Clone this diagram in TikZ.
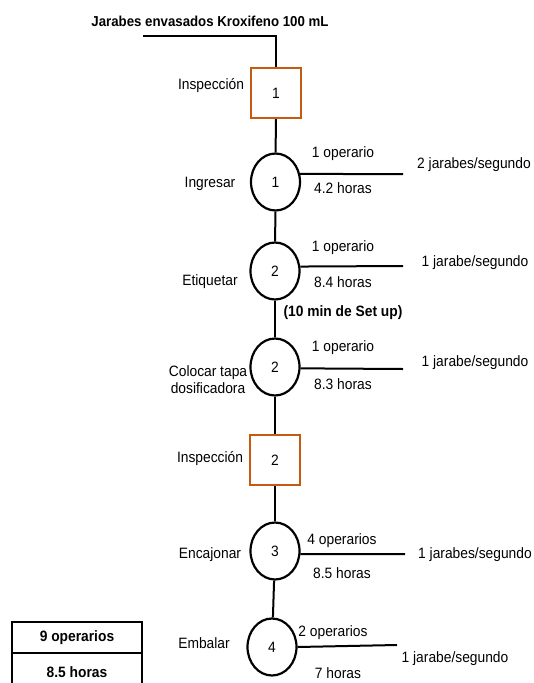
\documentclass[tikz,border=0pt]{standalone}
\usepackage{fontspec}
\setmainfont{Liberation Sans}[FakeStretch=0.92]
\usetikzlibrary{shapes.geometric}
\definecolor{inspcol}{HTML}{C55A11}
\tikzset{
  opnode/.style={ellipse, draw=black, line width=2.2pt, minimum width=49pt, minimum height=57pt, inner sep=0pt, font=\fontsize{15}{17}\selectfont},
  inspnode/.style={rectangle, draw=inspcol, line width=2.2pt, minimum width=50pt, minimum height=50pt, inner sep=0pt, font=\fontsize{15}{17}\selectfont},
  lbl/.style={inner sep=0pt, font=\fontsize{15}{17}\selectfont, align=center},
  blbl/.style={inner sep=0pt, font=\fontsize{15}{17}\selectfont\bfseries, align=center},
  flow/.style={draw=black, line width=2pt},
}
\begin{document}
\begin{tikzpicture}[x=1pt, y=-1pt]
\useasboundingbox[fill=white] (0,0) rectangle (534,683);

% title and incoming line
\node[blbl, font=\fontsize{14.4}{17}\selectfont\bfseries] (title) at (210,21) {Jarabes envasados Kroxifeno 100 mL};
\coordinate (start) at (143,36);

% main sequence of steps
\node[inspnode] (i1) at (276,93) {1};
\node[opnode] (c1) at (275.5,182) {1};
\node[opnode] (c2) at (275,271) {2};
\node[opnode] (c3) at (275,367) {2};
\node[inspnode] (i2) at (275,460) {2};
\node[opnode] (c4) at (275,551) {3};
\node[opnode] (c5) at (272,647) {4};

\draw[flow] (start) -- (276,36) -- (i1.north);
\draw[flow] (i1) -- (c1);
\draw[flow] (c1) -- (c2);
\draw[flow] (c2) -- (c3);
\draw[flow] (c3) -- (i2);
\draw[flow] (i2) -- (c4);
\draw[flow] (c4) -- (c5);

% step names
\node[lbl] (n0) at (211,86) {Inspección};
\node[lbl] (n1) at (210,184) {Ingresar};
\node[lbl] (n2) at (210,282) {Etiquetar};
\node[lbl] (n3) at (208,380) {Colocar tapa\\dosificadora};
\node[lbl] (n4) at (210,459) {Inspección};
\node[lbl] (n5) at (210,555) {Encajonar};
\node[lbl] (n6) at (204,643) {Embalar};

% side branches with staffing, time and rate
\coordinate (e1) at (403,174);
\coordinate (e2) at (403,266);
\coordinate (e3) at (403,369);
\coordinate (e4) at (405,554);
\coordinate (e5) at (397,645);
\draw[flow] (c1.18) -- (e1);
\draw[flow] (c2.10) -- (e2);
\draw[flow] (c3.-3) -- (e3);
\draw[flow] (c4.-7) -- (e4);
\draw[flow] (c5.east) -- (e5);

\node[lbl] (o1) at (343,154) {1 operario};
\node[lbl] (h1) at (343,188) {4.2 horas};
\node[lbl] (r1) at (474,165) {2 jarabes/segundo};

\node[lbl] (o2) at (343,248) {1 operario};
\node[lbl] (h2) at (343,282) {8.4 horas};
\node[lbl] (r2) at (475,263) {1 jarabe/segundo};
\node[blbl] (su) at (343,313) {(10 min de Set up)};

\node[lbl] (o3) at (343,348) {1 operario};
\node[lbl] (h3) at (343,384) {8.3 horas};
\node[lbl] (r3) at (475,363) {1 jarabe/segundo};

\node[lbl] (o4) at (342,541) {4 operarios};
\node[lbl] (h4) at (342,573) {8.5 horas};
\node[lbl] (r4) at (475,555) {1 jarabes/segundo};

\node[lbl] (o5) at (333,633) {2 operarios};
\node[lbl] (h5) at (338,673) {7 horas};
\node[lbl] (r5) at (455,659) {1 jarabe/segundo};

% totals table
\draw[line width=1.6pt] (12,700) -- (12,622) -- (142,622) -- (142,700);
\draw[line width=1.2pt] (12,653) -- (142,653);
\node[blbl] (tot1) at (77,638) {9 operarios};
\node[blbl] (tot2) at (77,672) {8.5 horas};
\end{tikzpicture}
\end{document}
